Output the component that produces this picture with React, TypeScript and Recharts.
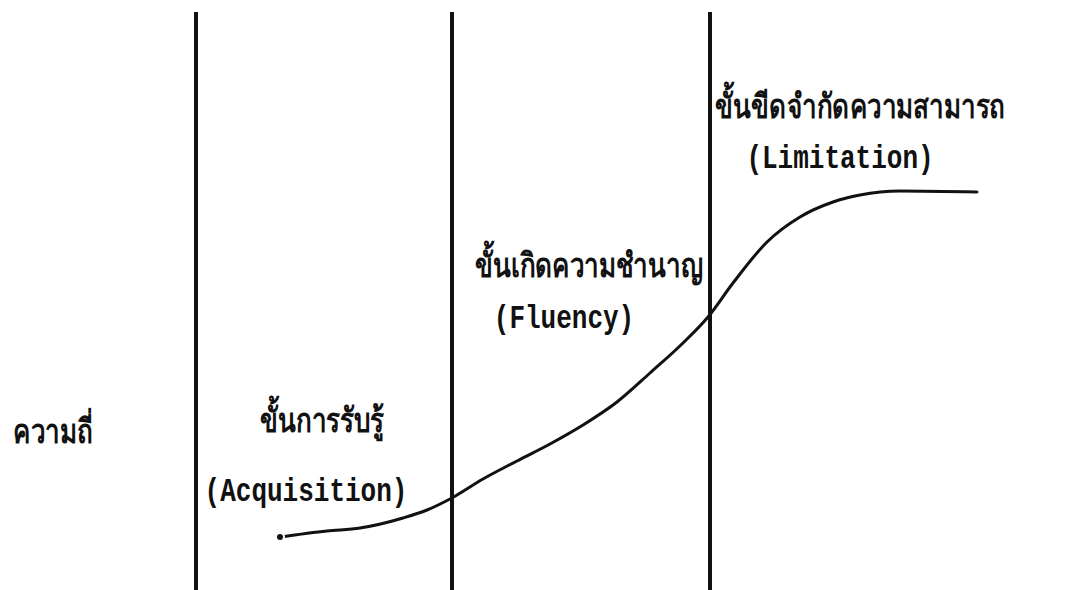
import React from 'react';
import { LineChart, Line, XAxis, YAxis, ReferenceLine, ReferenceDot } from 'recharts';

// learning curve (x = time, y = frequency, both in picture units)
const curveX = [280, 327, 360, 403, 427, 450, 483, 517, 550, 583, 617, 650, 683, 708, 733, 767, 800, 833, 860, 900, 977];
const curveY = [53, 59, 62, 72, 80, 91, 111, 129, 146, 165, 188, 217, 247, 273, 307, 348, 373, 388, 395, 399, 398];

// stage boundaries
const boundaries = [196, 452, 710];
const boundaryTop = 578;

// stage names (Thai) and terms (English)
const stageNames = ['ขั้นการรับรู้', 'ขั้นเกิดความชำนาญ', 'ขั้นขีดจำกัดความสามารถ'];
const stageNameX = [322, 589, 860];
const stageNameY = [158, 313, 472];
const stageTerms = ['(Acquisition)', '(Fluency)', '(Limitation)'];
const stageTermX = [306, 564, 840];
const stageTermY = [89, 262, 422];

const axisTitle = 'ความถี่';
const axisTitleX = 53;
const axisTitleY = 147;

const data = curveX.map((x, i) => ({ x, y: curveY[i] }));

const thaiFont = '"Noto Sans", "DejaVu Sans", sans-serif';
const latinFont = '"Liberation Mono", "DejaVu Sans Mono", monospace';

const makeLabel = (text: string, font: string, size: number, sy: number) => (props: any) => {
  const vb = props.viewBox || {};
  const cx = (vb.x ?? 0) + (vb.width ?? 0) / 2;
  const cy = (vb.y ?? 0) + (vb.height ?? 0) / 2;
  return (
    <text
      x={cx}
      y={cy}
      textAnchor="middle"
      fill="#111"
      fontFamily={font}
      fontWeight="bold"
      fontSize={size}
      transform={`translate(${cx} ${cy}) scale(1 ${sy}) translate(${-cx} ${-cy})`}
    >
      {text}
    </text>
  );
};

const App: React.FC = () => {
  return (
    <div style={{ position: 'absolute', left: 0, top: 0, width: 1079, height: 590, background: '#fff' }}>
      <LineChart width={1079} height={590} data={data} margin={{ top: 0, right: 0, bottom: 0, left: 0 }}>
        <XAxis type="number" dataKey="x" domain={[0, 1079]} hide />
        <YAxis type="number" domain={[0, 590]} hide />
        {boundaries.map((b) => (
          <ReferenceLine
            key={b}
            segment={[{ x: b, y: 0 }, { x: b, y: boundaryTop }]}
            stroke="#111"
            strokeWidth={4}
            ifOverflow="visible"
          />
        ))}
        <Line
          type="monotone"
          dataKey="y"
          stroke="#111"
          strokeWidth={3}
          strokeLinecap="round"
          dot={false}
          isAnimationActive={false}
        />
        <ReferenceDot
          x={axisTitleX}
          y={axisTitleY}
          r={0}
          fill="none"
          stroke="none"
          label={makeLabel(axisTitle, thaiFont, 26, 1.3)}
        />
        {stageNames.map((t, i) => (
          <ReferenceDot
            key={t}
            x={stageNameX[i]}
            y={stageNameY[i]}
            r={0}
            fill="none"
            stroke="none"
            label={makeLabel(t, thaiFont, 26, 1.3)}
          />
        ))}
        {stageTerms.map((t, i) => (
          <ReferenceDot
            key={t}
            x={stageTermX[i]}
            y={stageTermY[i]}
            r={0}
            fill="none"
            stroke="none"
            label={makeLabel(t, latinFont, 26, 1.25)}
          />
        ))}
      </LineChart>
    </div>
  );
};

export default App;
